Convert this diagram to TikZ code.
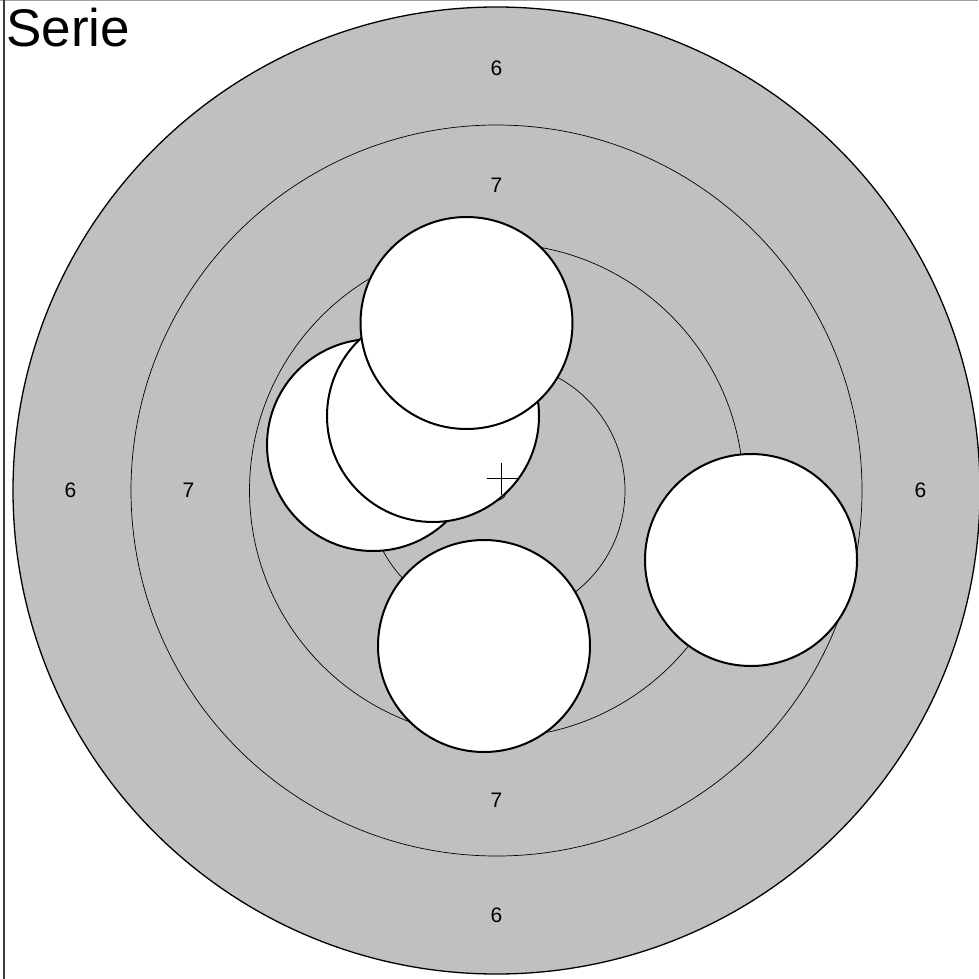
\documentclass[tikz,border=0pt]{standalone}
\usepackage{fontspec}
\setmainfont{Liberation Sans}
\definecolor{targetgray}{RGB}{192,192,192}
\definecolor{framegray}{RGB}{60,60,60}
\definecolor{edgegray}{RGB}{160,160,160}
\tikzset{
    targetdisc/.style={
        draw=black,
        fill=targetgray,
        line width=1.3pt
    },
    targetring/.style={
        draw=black,
        line width=0.7pt
    },
    ringlabel/.style={
        inner sep=0pt,
        font=\fontsize{21}{21}\selectfont
    },
    shothole/.style={
        draw=black,
        fill=white,
        circle,
        inner sep=0pt,
        minimum size=212pt,
        line width=2pt
    },
    meancross/.style={
        draw=black,
        line width=1.4pt
    }
}

\begin{document}
\begin{tikzpicture}[x=1pt,y=-1pt]
        \useasboundingbox (0,0) rectangle (978,979);
        \coordinate (centre) at (496.5,490.5);

        % frame
        \draw[draw=edgegray,line width=1pt] (0,0.5) -- (978,0.5);
        \draw[draw=framegray,line width=1.2pt] (4,0) -- (4,979);

        % target
        \draw[targetdisc] (centre) circle[radius=483.5pt];
        \foreach \r in {365.5,247,128.5,10}
            \draw[targetring] (centre) circle[radius=\r pt];

        \node[ringlabel] (six-n) at (496.5,68) {6};
        \node[ringlabel] (six-w) at (70.5,490.5) {6};
        \node[ringlabel] (six-e) at (920.5,490.5) {6};
        \node[ringlabel] (six-s) at (496.5,915) {6};
        \node[ringlabel] (seven-n) at (496.5,185) {7};
        \node[ringlabel] (seven-w) at (188.5,490.5) {7};
        \node[ringlabel] (seven-s) at (496.5,800) {7};

        % shots
        \node[shothole] (shot1) at (751,560) {};
        \node[shothole] (shot2) at (484,646) {};
        \node[shothole] (shot3) at (373,445) {};
        \node[shothole] (shot4) at (433,416) {};
        \node[shothole] (shot5) at (466.5,323) {};

        % mean point of impact
        \coordinate (mean) at (501.5,478.5);
        \draw[meancross] ([xshift=-15pt]mean) -- ([xshift=15pt]mean);
        \draw[meancross] ([yshift=-16pt]mean) -- ([yshift=16pt]mean);

        \node[anchor=base west,inner sep=0pt,font=\fontsize{53}{53}\selectfont]
            (title) at (6,47) {Serie};
    \end{tikzpicture}
\end{document}
